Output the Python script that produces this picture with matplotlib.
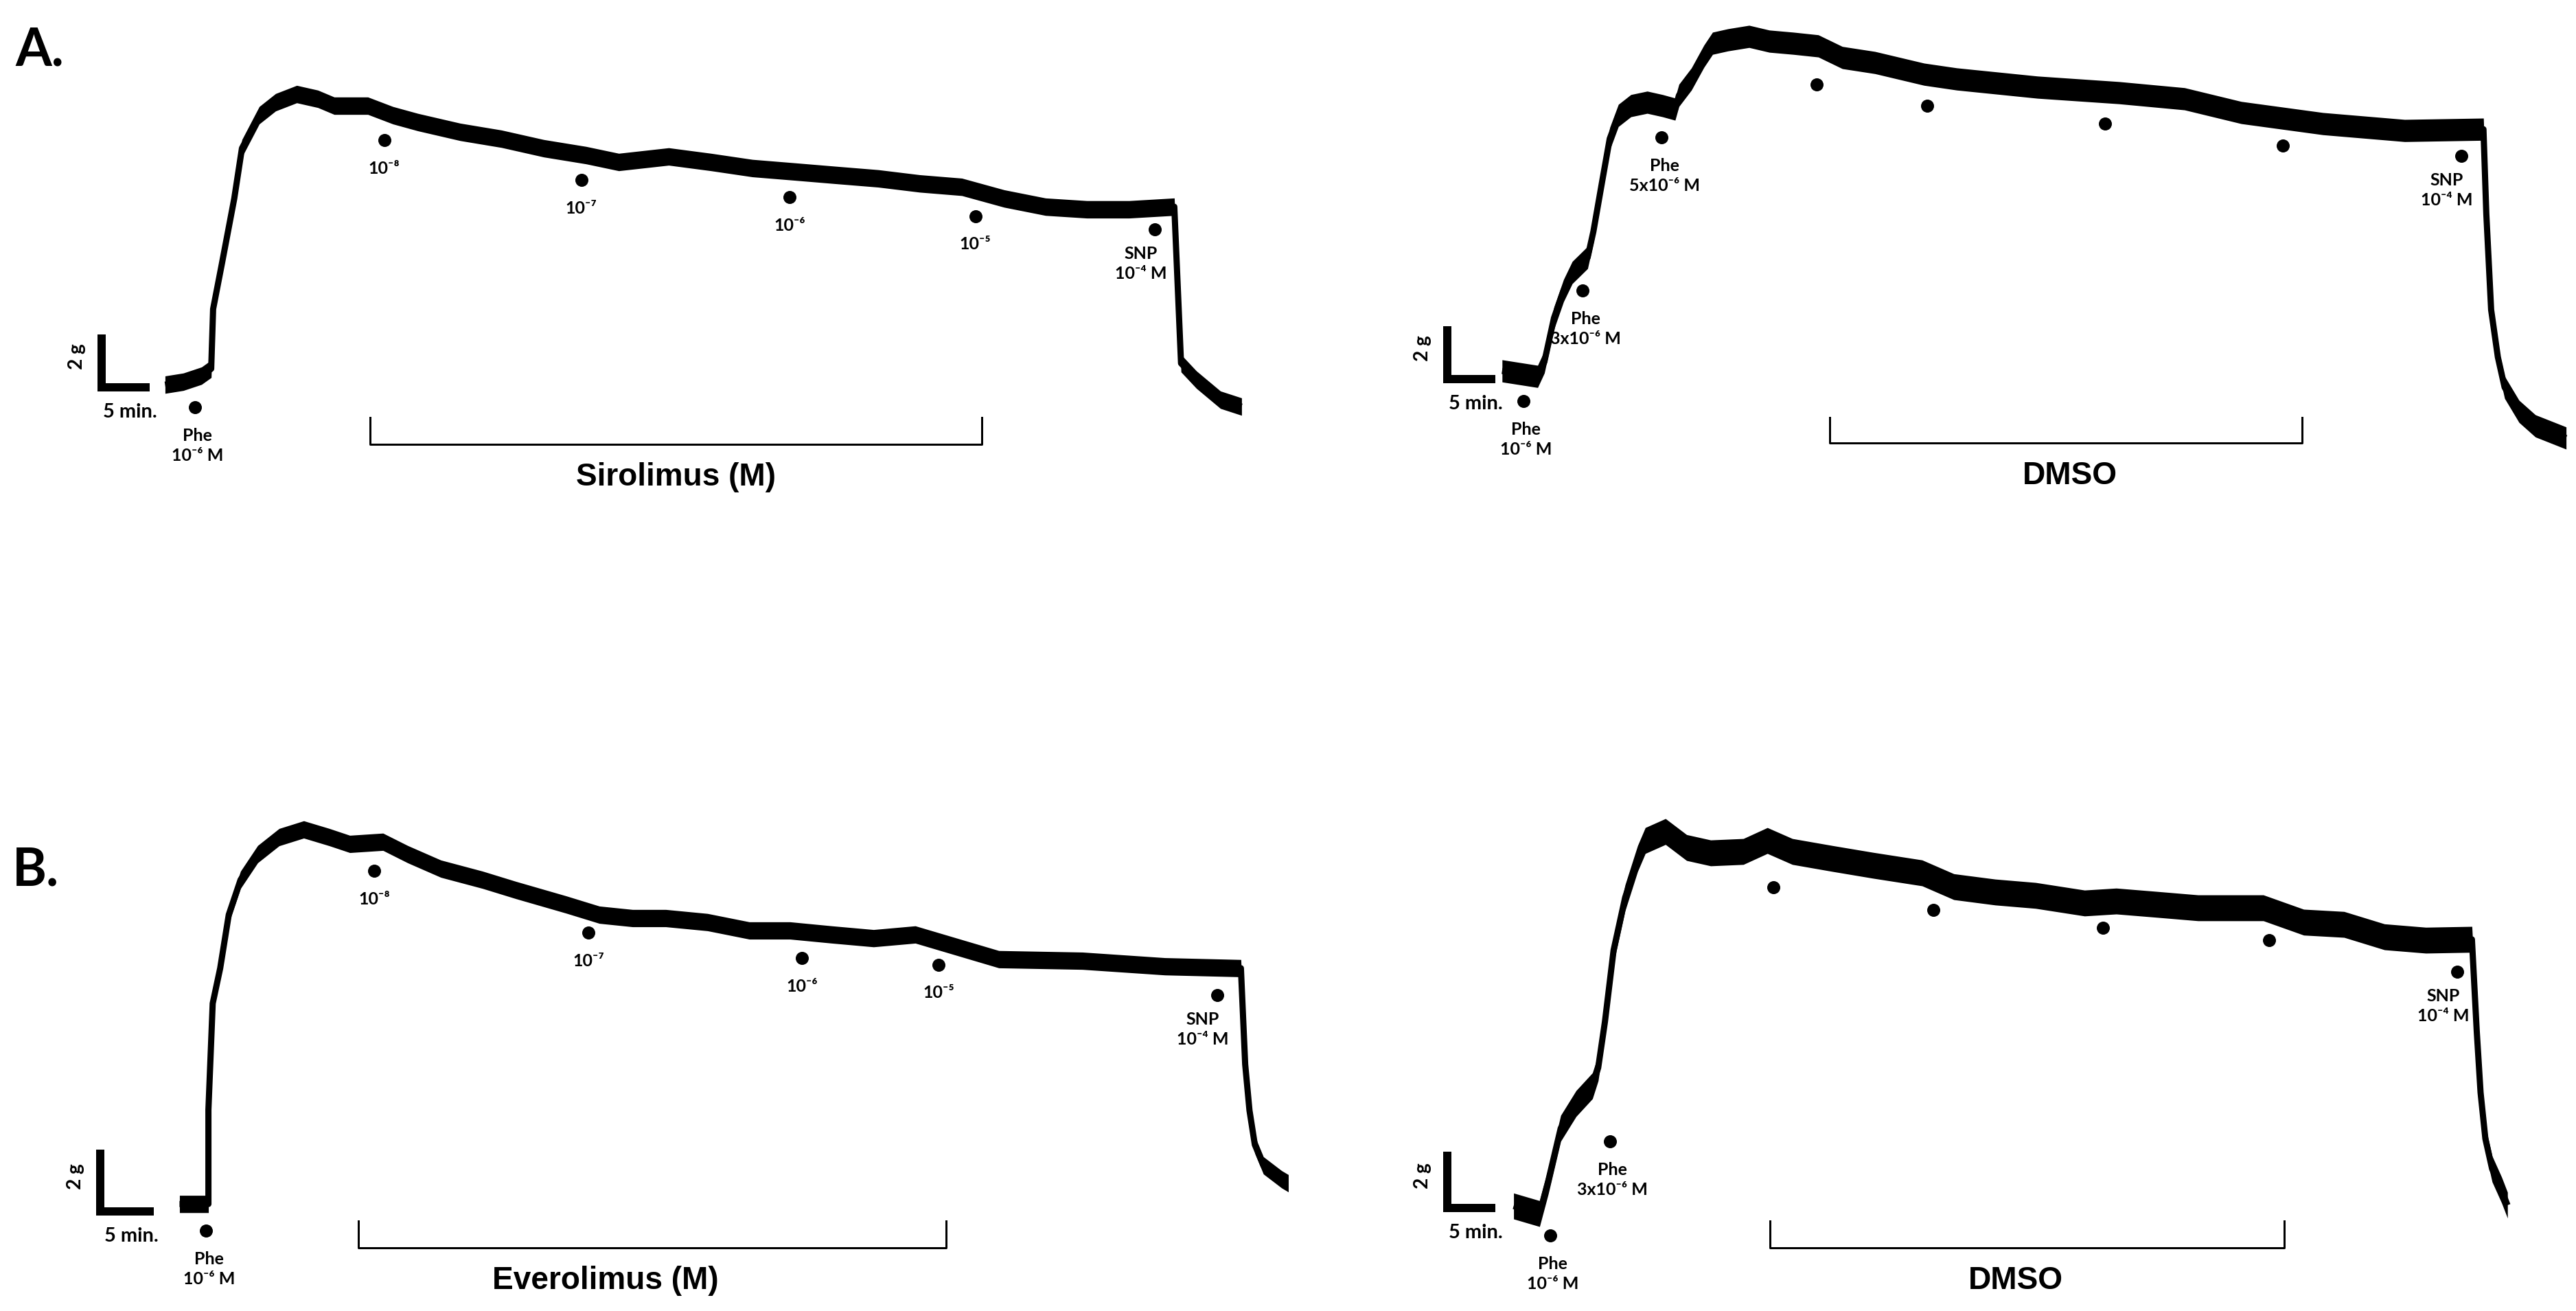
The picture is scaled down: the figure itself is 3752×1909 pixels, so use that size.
import numpy as np
import matplotlib.pyplot as plt

# ---- traces: time (min) vs tension (g) ----
siro_t = [6.6, 8.5, 10.4, 11.4, 11.6, 12.5, 13.8, 14.6, 16.4, 18.1, 20.3, 22.5, 24.2, 27.7, 30.3, 32.9,
          37.3, 41.6, 46.0, 50.4, 53.8, 59.0, 63.4, 67.7, 72.1, 76.4, 80.8, 85.1, 89.5, 93.9, 98.2, 102.5,
          106.9, 111.6, 112.3, 113.9, 116.4, 118.6]
siro_g = [0.10, 0.21, 0.44, 0.70, 2.96, 4.65, 7.14, 9.04, 10.29, 10.78, 11.09, 10.91, 10.65, 10.65, 10.29, 10.03,
          9.66, 9.40, 9.04, 8.78, 8.52, 8.73, 8.52, 8.29, 8.16, 8.03, 7.90, 7.71, 7.58, 7.14, 6.83, 6.73,
          6.73, 6.83, 0.91, 0.29, -0.47, -0.73]

dmso1_t = [5.7, 9.4, 10.1, 11.1, 12.1, 13.0, 14.6, 15.2, 16.1, 16.9, 17.8, 19.1, 20.8, 22.4, 23.7, 24.1,
           25.4, 26.7, 27.6, 29.2, 31.4, 33.5, 36.0, 38.6, 41.1, 44.5, 49.6, 53.0, 61.4, 69.9, 76.7, 82.6,
           91.1, 99.6, 107.8, 108.1, 108.6, 109.3, 110.0, 111.5, 113.2, 116.4]
dmso1_g = [0.31, 0.10, 0.65, 2.31, 3.35, 4.03, 4.60, 5.58, 7.45, 9.09, 9.97, 10.34, 10.47, 10.34, 10.21, 10.73,
           11.35, 12.21, 12.70, 12.83, 12.96, 12.78, 12.70, 12.60, 12.16, 11.97, 11.53, 11.35, 11.04, 10.83, 10.60, 10.08,
           9.66, 9.40, 9.45, 6.23, 2.62, 0.83, -0.31, -1.22, -1.77, -2.23]

evero_t = [7.4, 10.1, 10.1, 10.5, 11.2, 12.0, 13.1, 14.7, 16.7, 19.0, 21.4, 23.3, 26.4, 28.7, 31.8, 35.7,
           38.8, 43.5, 46.6, 49.7, 52.8, 56.7, 60.6, 64.4, 68.3, 72.2, 76.1, 80.0, 83.9, 91.7, 99.4, 106.5,
           106.9, 107.3, 107.8, 108.6, 110.3, 112.0, 114.8]
evero_g = [0.24, 0.24, 3.29, 6.73, 7.87, 9.60, 10.73, 11.56, 12.11, 12.36, 12.11, 11.89, 11.96, 11.56, 11.09, 10.73,
           10.40, 9.93, 9.60, 9.49, 9.49, 9.36, 9.09, 9.09, 8.96, 8.84, 8.96, 8.56, 8.16, 8.11, 7.93, 7.87,
           4.76, 3.27, 2.16, 1.49, 1.04, 0.69, 0.42]

dmso2_t = [6.9, 9.6, 10.5, 11.8, 13.4, 15.1, 15.7, 16.4, 17.3, 18.5, 19.8, 20.6, 22.7, 24.9, 27.4, 30.8,
           33.3, 35.9, 40.1, 44.3, 49.4, 52.7, 57.0, 61.2, 66.3, 69.6, 73.9, 78.1, 84.9, 89.1, 93.3, 97.5,
           101.8, 106.6, 107.1, 107.5, 108.0, 108.7, 109.7, 110.3]
dmso2_g = [0.07, -0.20, 0.95, 2.83, 3.71, 4.34, 4.98, 6.61, 9.15, 11.02, 12.41, 13.05, 13.37, 12.80, 12.61, 12.66,
           13.05, 12.66, 12.41, 12.17, 11.90, 11.41, 11.22, 11.10, 10.83, 10.90, 10.78, 10.66, 10.66, 10.15, 10.07, 9.63,
           9.51, 9.54, 6.29, 4.10, 2.46, 1.39, 0.63, 0.10]

# ---- additions (dots) ----
siro_dose_t = [9.7, 29.4, 49.9, 71.6, 90.9, 109.6]
siro_dose_g = [-0.75, 9.35, 7.84, 7.19, 6.47, 5.97]
siro_dose_lab = ['Phe\n10⁻⁶ M', '10⁻⁸', '10⁻⁷', '10⁻⁶', '10⁻⁵', 'SNP\n10⁻⁴ M']

dmso1_dose_t = [7.9, 14.1, 22.3, 38.4, 49.9, 68.4, 86.9, 105.5]
dmso1_dose_g = [-0.83, 3.35, 9.14, 11.14, 10.34, 9.66, 8.83, 8.44]
dmso1_dose_lab = ['Phe\n10⁻⁶ M', 'Phe\n3x10⁻⁶ M', 'Phe\n5x10⁻⁶ M', '', '', '', '', 'SNP\n10⁻⁴ M']

evero_dose_t = [9.9, 25.6, 45.6, 65.5, 78.3, 104.3]
evero_dose_g = [-0.62, 11.02, 9.02, 8.20, 7.98, 7.00]
evero_dose_lab = ['Phe\n10⁻⁶ M', '10⁻⁸', '10⁻⁷', '10⁻⁶', '10⁻⁵', 'SNP\n10⁻⁴ M']

dmso2_dose_t = [10.7, 16.9, 33.9, 50.6, 68.2, 85.5, 105.1]
dmso2_dose_g = [-0.98, 2.37, 11.39, 10.59, 9.95, 9.51, 8.39]
dmso2_dose_lab = ['Phe\n10⁻⁶ M', 'Phe\n3x10⁻⁶ M', '', '', '', '', 'SNP\n10⁻⁴ M']

# treatment periods (min)
siro_period = (27.9, 91.6)
dmso1_period = (39.8, 88.9)
evero_period = (24.1, 79.0)
dmso2_period = (33.6, 87.1)

W, H, DPI = 3752, 1909, 100
plt.rcParams['font.family'] = ['Lato', 'DejaVu Sans']
plt.rcParams['font.weight'] = 'bold'

def px(v):
    return v * 72.0 / DPI

fig = plt.figure(figsize=(W / DPI, H / DPI), dpi=DPI)
fig.patch.set_facecolor('white')

# layout: pixel region, scale-bar corner (px), px per min / per g
panels = [
    dict(t=siro_t, g=siro_g, dt=siro_dose_t, dg=siro_dose_g, lab=siro_dose_lab, per=siro_period,
         drug='Sirolimus (M)', region=(0, 0, 1876, 955), origin=(148, 564), scale=(14, 38.5),
         half=0.33, brk=(-1.14, -2.16), ddx=0),
    dict(t=dmso1_t, g=dmso1_g, dt=dmso1_dose_t, dg=dmso1_dose_g, lab=dmso1_dose_lab, per=dmso1_period,
         drug='DMSO', region=(1876, 0, 3752, 955), origin=(2108, 552), scale=(14, 38.5),
         half=0.42, brk=(-1.45, -2.42), ddx=6),
    dict(t=evero_t, g=evero_g, dt=evero_dose_t, dg=evero_dose_g, lab=evero_dose_lab, per=evero_period,
         drug='Everolimus (M)', region=(0, 955, 1876, 1909), origin=(146, 1764), scale=(15.6, 45),
         half=0.28, brk=(-0.31, -1.18), ddx=-68),
    dict(t=dmso2_t, g=dmso2_g, dt=dmso2_dose_t, dg=dmso2_dose_g, lab=dmso2_dose_lab, per=dmso2_period,
         drug='DMSO', region=(1876, 955, 3752, 1909), origin=(2108, 1759), scale=(14, 41),
         half=0.46, brk=(-0.46, -1.41), ddx=-17),
]

small = px(25)
for p in panels:
    L, T, R, B = p['region']
    x0, y0 = p['origin']
    sx, sy = p['scale']
    ax = fig.add_axes([L / W, 1 - B / H, (R - L) / W, (B - T) / H])
    ax.set_xlim((L - x0) / sx, (R - x0) / sx)
    ax.set_ylim((y0 - B) / sy, (y0 - T) / sy)
    ax.axis('off')

    t = np.asarray(p['t'])
    g = np.asarray(p['g'])
    ax.fill_between(t, g - p['half'], g + p['half'], color='black', lw=0)
    ax.plot(t, g, color='black', lw=px(9), solid_joinstyle='round', solid_capstyle='butt')

    # scale bar 2 g x 5 min
    ax.plot([0, 0, 5], [2, 0, 0], color='black', lw=px(12),
            solid_joinstyle='miter', solid_capstyle='butt')
    ax.annotate('2 g', (0, 1), xytext=(-36, 6), textcoords='offset pixels',
                rotation=90, ha='center', va='center', fontsize=px(28))
    ax.annotate('5 min.', (2.5, 0), xytext=(6, -36), textcoords='offset pixels',
                ha='center', va='center', fontsize=px(29))

    # additions
    ax.plot(p['dt'], p['dg'], 'o', color='black', ms=px(19), mec='none')
    for tx, gy, s in zip(p['dt'], p['dg'], p['lab']):
        if not s:
            continue
        if s.startswith('SNP'):
            off, va = (-21, -24), 'top'
        elif '\n' in s:
            off, va = (4, -30), 'top'
        else:
            off, va = (0, -41), 'center'
        ax.annotate(s, (tx, gy), xytext=off, textcoords='offset pixels', ha='center',
                    va=va, multialignment='center', fontsize=small, linespacing=1.3)

    # treatment bracket
    a, b = p['per']
    top, bot = p['brk']
    ax.plot([a, a, b, b], [top, bot, bot, top], color='black', lw=px(3))
    ax.annotate(p['drug'], ((a + b) / 2, bot), xytext=(p['ddx'], -48), textcoords='offset pixels',
                ha='center', va='center', fontsize=px(46),
                family=['Liberation Sans Narrow', 'Liberation Sans', 'DejaVu Sans'])

fig.text(22 / W, 1 - 74 / H, 'A.', fontsize=px(76), ha='left', va='center')
fig.text(18 / W, 1 - 1268 / H, 'B.', fontsize=px(76), ha='left', va='center')

fig.savefig('out.png', dpi=DPI, facecolor='white')
